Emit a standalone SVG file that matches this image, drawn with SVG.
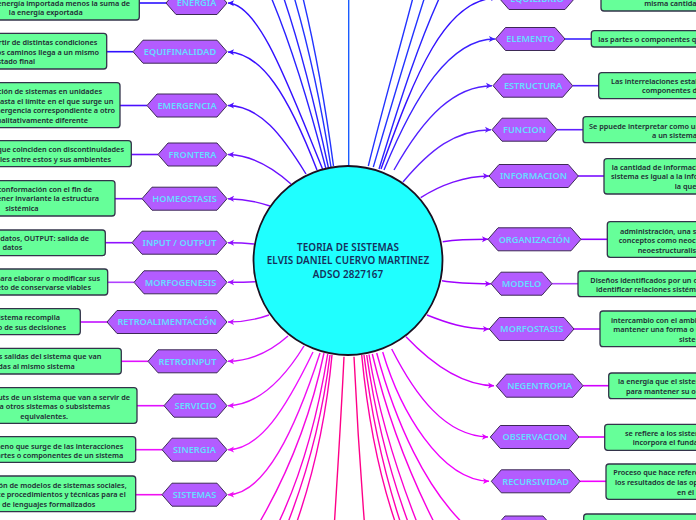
<svg xmlns="http://www.w3.org/2000/svg" width="696" height="520" viewBox="0 0 696 520">
<style>
.bg{fill:#ffffff}
.c{fill:none;stroke-width:1.4;marker-end:url(#a)}
.n{fill:none;stroke-width:1.4}
.l{fill:none;stroke-width:1.6}
.h{fill:#b35cff;stroke:#3d2a55;stroke-width:1}
.b{fill:#66ff99;stroke:#33334a;stroke-width:1.3}
text{font-family:"Noto Sans","Open Sans",sans-serif;font-weight:600}
.ht{fill:#66ddff;font-size:9.2px;text-anchor:middle;letter-spacing:0}
.t{fill:#1f2a33;font-size:7.3px;letter-spacing:0}
.e{text-anchor:end}
.m{text-anchor:middle}
.ct{fill:#16305c;font-size:9.9px;text-anchor:middle;letter-spacing:.1px}
</style>
<defs>
<marker id="a" markerUnits="userSpaceOnUse" markerWidth="8" markerHeight="8" refX="6" refY="4" orient="auto"><path d="M0,1 L6,4 L0,7 L1.5,4 Z" fill="context-stroke"/></marker>
</defs>
<rect class="bg" width="696" height="520"/>
<g id="connectors">
<path class="n" stroke="#1a5cff" d="M348.7,166 L348.7,-10"/>
<path class="n" stroke="#2233ff" d="M333.5,166 C326,110 316,50 301,-10"/>
<path class="n" stroke="#2233ff" d="M331,167 C322,110 310,50 292,-10"/>
<path class="n" stroke="#2a22ff" d="M328.5,168 C316,110 302,50 281,-10"/>
<path class="n" stroke="#2a22ff" d="M326,169 C312,115 294,50 268,-10"/>
<path class="n" stroke="#2233ff" d="M368.3,166 C382,110 398,55 415,-10"/>
<path class="n" stroke="#2233ff" d="M373.3,167 C390,110 406,55 427,-10"/>
<path class="n" stroke="#2a22ff" d="M379,169 C396,115 415,50 443,-10"/>
<path class="c" stroke="#3311ff" d="M323,170 C290,90 260,4 228,3"/>
<path class="c" stroke="#3a10ff" d="M317,170 C288,95 262,53 228,52"/>
<path class="c" stroke="#4a10ff" d="M306,174 C282,135 260,106 228,105.5"/>
<path class="c" stroke="#6a10ff" d="M291,184 C270,165 250,155 228,154.5"/>
<path class="c" stroke="#8010ff" d="M270,206 C255,201 245,199 228,198.7"/>
<path class="c" stroke="#9010ff" d="M254,244 C245,243 238,242.7 228,242.7"/>
<path class="c" stroke="#a010ff" d="M255,281.7 C245,282.3 238,282.3 228,282.3"/>
<path class="c" stroke="#c010ff" d="M269,315 C258,319 245,322 228,322"/>
<path class="c" stroke="#d810ff" d="M288,336 C270,352 250,361 228,361.3"/>
<path class="c" stroke="#e010ff" d="M304,346 C280,385 255,405 228,405.7"/>
<path class="c" stroke="#ee10ff" d="M313,352 C285,410 260,449 228,449.7"/>
<path class="c" stroke="#f010f0" d="M320,353 C295,430 265,494 228,494.7"/>
<path class="n" stroke="#f508e0" d="M324,353 C310,420 285,480 255,530"/>
<path class="n" stroke="#f800d0" d="M327.7,354 C317,420 300,480 275,530"/>
<path class="n" stroke="#fa00c0" d="M330,355 C322,420 305,480 285,530"/>
<path class="n" stroke="#fc00b0" d="M332,355 C326,420 312,480 294,530"/>
<path class="n" stroke="#ff0088" d="M344,356.7 C341,420 337,480 334,530"/>
<path class="n" stroke="#ff0088" d="M354,356.7 C357,420 361,480 365,530"/>
<path class="n" stroke="#ff00a0" d="M361.7,355 C368,420 380,480 398,530"/>
<path class="n" stroke="#ff00b0" d="M364,355 C372,420 386,480 403,530"/>
<path class="n" stroke="#fc00c0" d="M366.7,355 C376,420 392,480 411,530"/>
<path class="n" stroke="#fa00d0" d="M369,354.5 C380,420 400,480 420,530"/>
<path class="n" stroke="#f800e0" d="M372.3,354 C388,420 412,480 438,530"/>
<path class="n" stroke="#f500f0" d="M376.7,353 C395,420 425,490 470,530"/>
<path class="c" stroke="#f000ff" d="M382.7,352 C400,410 440,480 489,481.3"/>
<path class="c" stroke="#e000ff" d="M391.7,349 C415,395 445,436 488,437"/>
<path class="c" stroke="#d000ff" d="M406,336.7 C430,362 460,385 494,385.7"/>
<path class="c" stroke="#b000ff" d="M427,315 C447,323 465,329 489,329"/>
<path class="c" stroke="#a000ff" d="M442,280.7 C455,283 470,283.7 491,283.7"/>
<path class="c" stroke="#9000ff" d="M442.7,241.7 C455,240 470,239.3 488,239.3"/>
<path class="c" stroke="#7a10ff" d="M420.7,197.7 C440,185 465,176 489,176"/>
<path class="c" stroke="#6020ff" d="M403,182 C430,150 455,130 491,129.7"/>
<path class="c" stroke="#5020ff" d="M394,170 C425,115 455,86 492,85.7"/>
<path class="c" stroke="#3a20ff" d="M384,170 C415,95 450,39 495,39"/>
<path class="c" stroke="#3311ff" d="M381,169 C415,75 445,-2 497,-2"/>
<path class="l" stroke="#2a10ff" d="M139,3H166"/>
<path class="l" stroke="#3010ff" d="M107,51.7H133"/>
<path class="l" stroke="#4a10ff" d="M120,105.5H147"/>
<path class="l" stroke="#6a10ff" d="M131,154.5H158"/>
<path class="l" stroke="#8010ff" d="M115,198.7H142"/>
<path class="l" stroke="#9010ff" d="M105,242.7H132"/>
<path class="l" stroke="#b040ff" d="M108,282.3H134"/>
<path class="l" stroke="#c010ff" d="M80,322H107"/>
<path class="l" stroke="#e010ff" d="M121,361.3H148"/>
<path class="l" stroke="#e010ff" d="M137,405.7H164"/>
<path class="l" stroke="#ee10ff" d="M136,449.7H162"/>
<path class="l" stroke="#f010f0" d="M136,494.7H162"/>
<path class="l" stroke="#3a20ff" d="M565,39H591"/>
<path class="l" stroke="#5020ff" d="M572.7,85.7H599"/>
<path class="l" stroke="#6020ff" d="M557,129.7H583"/>
<path class="l" stroke="#7a10ff" d="M578,176H604"/>
<path class="l" stroke="#9000ff" d="M581,239.3H607"/>
<path class="l" stroke="#b040ff" d="M552,283.7H578"/>
<path class="l" stroke="#b000ff" d="M574,329H600"/>
<path class="l" stroke="#d000ff" d="M583,385.7H609"/>
<path class="l" stroke="#e000ff" d="M579,437H605"/>
<path class="l" stroke="#f000ff" d="M580,481.3H606"/>
</g>
<g id="center">
<circle cx="348" cy="260.5" r="94.5" fill="#1fffff" stroke="#1a1020" stroke-width="1.8"/>
<text class="ct" x="348" y="250.6">TEORIA DE SISTEMAS</text>
<text class="ct" x="348" y="263.6">ELVIS DANIEL CUERVO MARTINEZ</text>
<text class="ct" x="348" y="277.6">ADSO 2827167</text>
</g>
<g id="energia">
<rect class="b" x="-45" y="-14" width="184.3" height="34" rx="3"/>
<polygon class="h" points="166,3 176,-8.5 217,-8.5 227,3 217,14.5 176,14.5"/>
<text class="ht" x="196.500" y="6.300">ENERGIA</text>
<text class="t e" x="130" y="5.700">energía importada menos la suma de</text>
<text class="t e" x="82.700" y="15">la energía exportada</text>
</g>
<g id="equifinalidad">
<rect class="b" x="-45" y="33.300" width="151.700" height="35.700" rx="3"/>
<polygon class="h" points="133,51.700 143,40.200 217,40.200 227,51.700 217,63.200 143,63.200"/>
<text class="ht" x="180" y="55">EQUIFINALIDAD</text>
<text class="t e" x="97.300" y="45.100">partir de distintas condiciones</text>
<text class="t e" x="99" y="54.500">os caminos llega a un mismo</text>
<text class="t e" x="35" y="63.800">estado final</text>
</g>
<g id="emergencia">
<rect class="b" x="-45" y="82.700" width="165" height="45" rx="3"/>
<polygon class="h" points="147,105.500 157,94 217,94 227,105.500 217,117 157,117"/>
<text class="ht" x="187" y="108.800">EMERGENCIA</text>
<text class="t e" x="102" y="94.100">ición de sistemas en unidades</text>
<text class="t e" x="113.300" y="103.500">hasta el límite en el que surge un</text>
<text class="t e" x="115" y="113.100">emergencia correspondiente a otro</text>
<text class="t e" x="88" y="122.500">cualitativamente diferente</text>
</g>
<g id="frontera">
<rect class="b" x="-45" y="140.700" width="176.300" height="26" rx="3"/>
<polygon class="h" points="158,154.500 168,143 217,143 227,154.500 217,166 168,166"/>
<text class="ht" x="192.500" y="157.800">FRONTERA</text>
<text class="t e" x="124" y="152.100">que coinciden con discontinuidades</text>
<text class="t e" x="111" y="162.100">ales entre estos y sus ambientes</text>
</g>
<g id="homeostasis">
<rect class="b" x="-45" y="180.700" width="160" height="35.300" rx="3"/>
<polygon class="h" points="142,198.700 152,187.200 217,187.200 227,198.700 217,210.200 152,210.200"/>
<text class="ht" x="184.500" y="202">HOMEOSTASIS</text>
<text class="t e" x="92" y="192.100">conformación con el fin de</text>
<text class="t e" x="99" y="201.100">tener  invariante la estructura</text>
<text class="t m" x="21.900" y="211.100">sistémica</text>
</g>
<g id="input-output">
<rect class="b" x="-45" y="230" width="150.300" height="25.700" rx="3"/>
<polygon class="h" points="132,242.700 142,231.200 217,231.200 227,242.700 217,254.200 142,254.200"/>
<text class="ht" x="179.500" y="246">INPUT / OUTPUT</text>
<text class="t e" x="89" y="241.100">datos, OUTPUT: salida  de</text>
<text class="t e" x="22.300" y="250.100">datos</text>
</g>
<g id="morfogenesis">
<rect class="b" x="-45" y="269" width="152.700" height="26" rx="3"/>
<polygon class="h" points="134,282.300 144,270.800 217,270.800 227,282.300 217,293.800 144,293.800"/>
<text class="ht" x="180.500" y="285.600">MORFOGENESIS</text>
<text class="t e" x="100" y="280.500">para elaborar o modificar sus</text>
<text class="t e" x="91" y="290.100">objeto de conservarse viables</text>
</g>
<g id="retroalimentacion">
<rect class="b" x="-45" y="308.700" width="125.300" height="26" rx="3"/>
<polygon class="h" points="107,322 117,310.500 217,310.500 227,322 217,333.500 117,333.500"/>
<text class="ht" x="167" y="325.300">RETROALIMENTACIÓN</text>
<text class="t e" x="60" y="320.100">sistema recompila</text>
<text class="t e" x="66" y="329.500">o de sus decisiones</text>
</g>
<g id="retroinput">
<rect class="b" x="-45" y="348.300" width="166.300" height="25.700" rx="3"/>
<polygon class="h" points="148,361.300 158,349.800 217,349.800 227,361.300 217,372.800 158,372.800"/>
<text class="ht" x="187.500" y="364.600">RETROINPUT</text>
<text class="t e" x="101.300" y="359.100">s salidas del sistema que van</text>
<text class="t e" x="74.700" y="369.100">das al mismo sistema</text>
</g>
<g id="servicio">
<rect class="b" x="-45" y="387.700" width="182" height="35.600" rx="3"/>
<polygon class="h" points="164,405.700 174,394.200 217,394.200 227,405.700 217,417.200 174,417.200"/>
<text class="ht" x="195.500" y="409">SERVICIO</text>
<text class="t e" x="130" y="399.500">uts de un sistema que van a servir de</text>
<text class="t e" x="110" y="408.800">a otros sistemas o subsistemas</text>
<text class="t e" x="68" y="418.500">equivalentes.</text>
</g>
<g id="sinergia">
<rect class="b" x="-45" y="436.700" width="180.700" height="25.600" rx="3"/>
<polygon class="h" points="162,449.700 172,438.200 217,438.200 227,449.700 217,461.200 172,461.200"/>
<text class="ht" x="194.500" y="453">SINERGIA</text>
<text class="t e" x="123.300" y="448.500">meno que surge de las interacciones</text>
<text class="t e" x="123.300" y="457.500">artes o componentes de un sistema</text>
</g>
<g id="sistemas">
<rect class="b" x="-45" y="476" width="180.700" height="35.700" rx="3"/>
<polygon class="h" points="162,494.700 172,483.200 217,483.200 227,494.700 217,506.200 172,506.200"/>
<text class="ht" x="194.500" y="498">SISTEMAS</text>
<text class="t e" x="126.700" y="487.500">ión de modelos de sistemas sociales,</text>
<text class="t e" x="125.700" y="497.100">ce procedimientos y técnicas para el</text>
<text class="t e" x="95.300" y="506.500">o de lenguajes formalizados</text>
</g>
<g id="equilibrio">
<rect class="b" x="601" y="-25" width="140" height="36" rx="3"/>
<polygon class="h" points="499,-2 509,-13.500 565,-13.500 575,-2 565,9.500 509,9.500"/>
<text class="ht" x="537" y="1.500">EQUILIBRIO</text>
<text class="t" x="644.300" y="6.100">misma cantidad</text>
</g>
<g id="elemento">
<rect class="b" x="591.300" y="30.700" width="150" height="16.300" rx="3"/>
<polygon class="h" points="495.500,39 505.500,27.500 555,27.500 565,39 555,50.500 505.500,50.500"/>
<text class="ht" x="530.500" y="42.300">ELEMENTO</text>
<text class="t" x="598.300" y="41.800">las partes o componentes qu</text>
</g>
<g id="estructura">
<rect class="b" x="598.700" y="72.700" width="150" height="26" rx="3"/>
<polygon class="h" points="493,85.700 503,74.200 562.700,74.200 572.700,85.700 562.700,97.200 503,97.200"/>
<text class="ht" x="533" y="89">ESTRUCTURA</text>
<text class="t" x="611" y="84.100">Las interrelaciones estab</text>
<text class="t" x="642" y="93.100">componentes d</text>
</g>
<g id="funcion">
<rect class="b" x="583" y="116.700" width="150" height="26" rx="3"/>
<polygon class="h" points="492,129.700 502,118.200 547,118.200 557,129.700 547,141.200 502,141.200"/>
<text class="ht" x="524.500" y="133">FUNCION</text>
<text class="t" x="589" y="128.500">Se ppuede interpretar como un</text>
<text class="t" x="652" y="137.500">a  un sistema</text>
</g>
<g id="informacion">
<rect class="b" x="604" y="158.700" width="150" height="35.300" rx="3"/>
<polygon class="h" points="489,176 499,164.500 568.300,164.500 578.300,176 568.300,187.500 499,187.500"/>
<text class="ht" x="533.500" y="179.300">INFORMACION</text>
<text class="t" x="611.700" y="170.100">la cantidad de información</text>
<text class="t" x="611" y="178.800">sistema es igual a la info</text>
<text class="t" x="674.700" y="188.800">la que</text>
</g>
<g id="organizacion">
<rect class="b" x="607.300" y="221.700" width="150" height="35.600" rx="3"/>
<polygon class="h" points="488,239.300 498,227.800 571,227.800 581,239.300 571,250.800 498,250.800"/>
<text class="ht" x="534.500" y="242.600">ORGANIZACIÓN</text>
<text class="t" x="620" y="233.500">administración, una si</text>
<text class="t" x="618.700" y="242.500">conceptos como neoc</text>
<text class="t" x="637.700" y="252.500">neoestructuralis</text>
</g>
<g id="modelo">
<rect class="b" x="578" y="271" width="150" height="25.700" rx="3"/>
<polygon class="h" points="491,283.700 501,272.200 542,272.200 552,283.700 542,295.200 501,295.200"/>
<text class="ht" x="521.500" y="287">MODELO</text>
<text class="t" x="590.300" y="282.500">Diseños identificados por un ol</text>
<text class="t" x="596" y="291.500">identificar relaciones sistémi</text>
</g>
<g id="morfostasis">
<rect class="b" x="600" y="311" width="150" height="35.700" rx="3"/>
<polygon class="h" points="489.300,329 499.300,317.500 564,317.500 574,329 564,340.500 499.300,340.500"/>
<text class="ht" x="531.700" y="332.300">MORFOSTASIS</text>
<text class="t" x="611" y="322.500">intercambio con el ambi</text>
<text class="t" x="613.300" y="332.100">mantener una forma o u</text>
<text class="t" x="679" y="341.500">siste</text>
</g>
<g id="negentropia">
<rect class="b" x="608.700" y="373" width="150" height="25.700" rx="3"/>
<polygon class="h" points="496.300,385.700 506.300,374.200 573,374.200 583,385.700 573,397.200 506.300,397.200"/>
<text class="ht" x="539.700" y="389">NEGENTROPIA</text>
<text class="t" x="618" y="384.100">la energía que el sister</text>
<text class="t" x="626" y="393.500">para mantener su or</text>
</g>
<g id="observacion">
<rect class="b" x="604.700" y="424.300" width="150" height="26" rx="3"/>
<polygon class="h" points="490.300,437 500.300,425.500 569,425.500 579,437 569,448.500 500.300,448.500"/>
<text class="ht" x="534.700" y="440.300">OBSERVACION</text>
<text class="t" x="625" y="435.500">se refiere a los sister</text>
<text class="t" x="632.700" y="445.100">incorpora el funda</text>
</g>
<g id="recursividad">
<rect class="b" x="606" y="464" width="150" height="35.300" rx="3"/>
<polygon class="h" points="491.300,481.300 501.300,469.800 570,469.800 580,481.300 570,492.800 501.300,492.800"/>
<text class="ht" x="535.700" y="484.600">RECURSIVIDAD</text>
<text class="t" x="613.300" y="475.100">Proceso que hace refere</text>
<text class="t" x="615" y="484.500">los resultados de las op</text>
<text class="t" x="677" y="494.500">en él r</text>
</g>
<g id="cut-node">
<rect class="b" x="583.700" y="514" width="150" height="30" rx="3"/>
<polygon class="h" points="495,527.500 505,516 543,516 553,527.500 543,539 505,539"/>
</g>
</svg>
